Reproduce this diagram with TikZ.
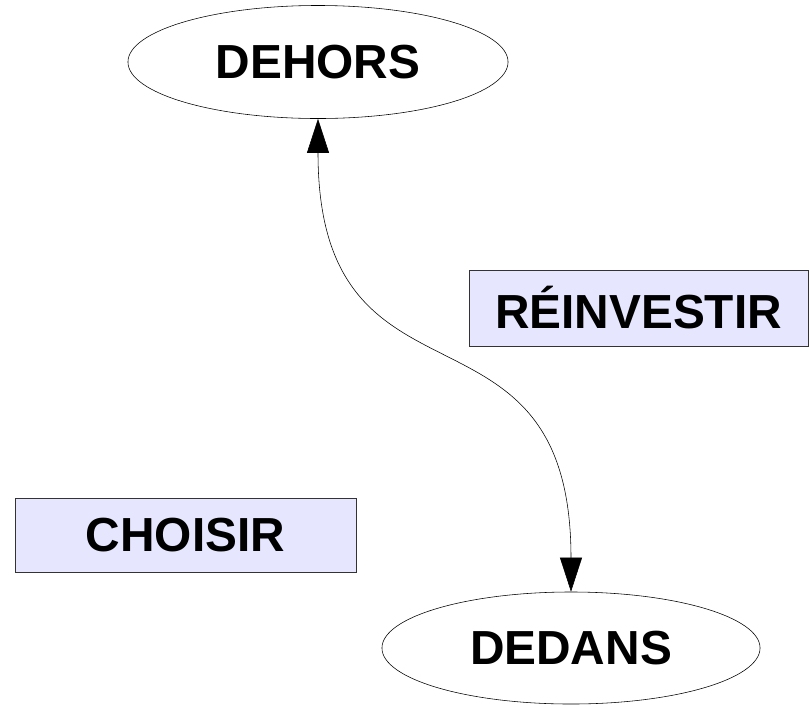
\documentclass[tikz,border=0pt]{standalone}
\usepackage{fontspec}
\setmainfont{Liberation Sans}
\usetikzlibrary{shapes.geometric,arrows.meta}

\definecolor{boxfill}{RGB}{230,230,255}
\tikzset{
  lieu/.style={ellipse,draw,thin,inner sep=0pt,font=\fontsize{34}{40}\selectfont\bfseries},
  etape/.style={rectangle,draw=black!80,fill=boxfill,inner sep=0pt,font=\fontsize{34}{40}\selectfont\bfseries},
}

\begin{document}
\begin{tikzpicture}[x=0.025cm,y=-0.025cm]
                \useasboundingbox (0,0) rectangle (810,706);
                \node [lieu,minimum width=9.5cm,minimum height=2.825cm] (dehors) at (318,62) {DEHORS};
                \node [lieu,minimum width=9.45cm,minimum height=2.8cm] (dedans) at (571,648) {DEDANS};
                \node [etape,minimum width=8.475cm,minimum height=1.9cm] (reinvestir) at (638.5,308) {RÉINVESTIR};
                \node [etape,minimum width=8.525cm,minimum height=1.85cm] (choisir) at (185.5,535) {CHOISIR};
                \draw [{Triangle[length=0.85cm,width=0.55cm]}-{Triangle[length=0.85cm,width=0.55cm]}] (dehors.south) .. controls (318,430) and (571,280) .. (dedans.north);
            \end{tikzpicture}
\end{document}
